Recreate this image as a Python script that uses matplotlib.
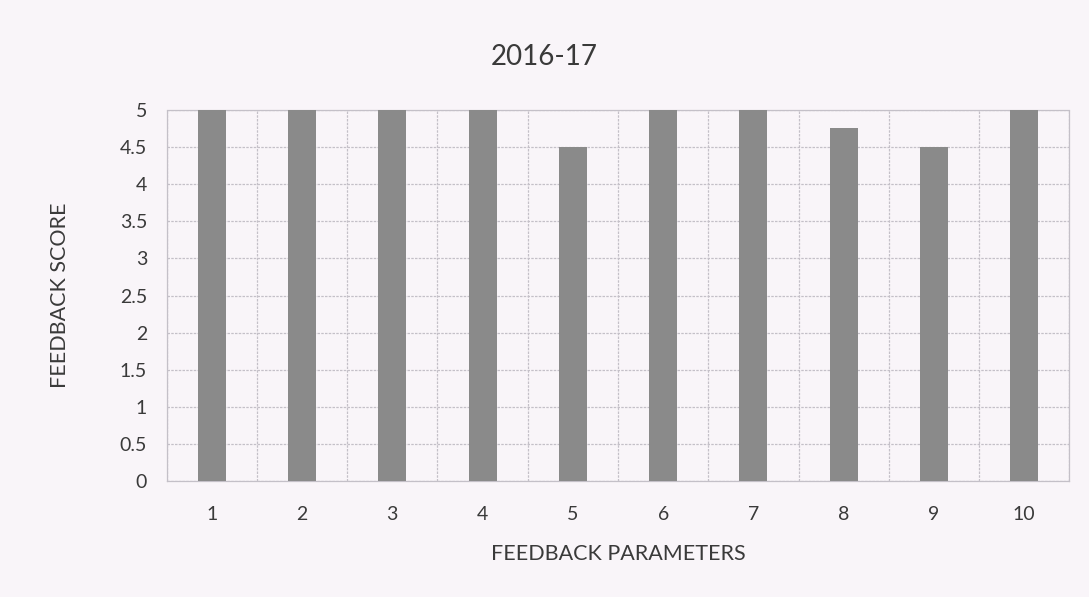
import matplotlib
matplotlib.use("Agg")
import matplotlib.pyplot as plt
import numpy as np

# feedback scores per parameter
parameters = ["1", "2", "3", "4", "5", "6", "7", "8", "9", "10"]
scores = [5, 5, 5, 5, 4.5, 5, 5, 4.75, 4.5, 5]
y_ticks = [0, 0.5, 1, 1.5, 2, 2.5, 3, 3.5, 4, 4.5, 5]

plt.rcParams['font.family'] = ['Lato', 'DejaVu Sans']

bg = '#f9f5f9'
text_col = '#3a3a3a'
grid_col = '#c4c0c8'

fig = plt.figure(figsize=(10.89, 5.97), dpi=100, facecolor=bg)
ax = fig.add_axes([0.153, 0.194, 0.829, 0.622])
ax.set_facecolor(bg)

x = np.arange(len(parameters))
ax.bar(x, scores, width=0.31, color='#8a8a8a', zorder=3)

ax.set_xlim(-0.5, len(parameters) - 0.5)
ax.set_ylim(0, 5)
ax.set_yticks(y_ticks)
ax.set_yticklabels([f"{v:g}" for v in y_ticks])
ax.set_xticks(x)
ax.set_xticklabels(parameters)

# vertical grid at category boundaries
ax.set_xticks(np.arange(-0.5, len(parameters)), minor=True)
ax.grid(which='minor', axis='x', color=grid_col, linestyle=(0, (2, 1)), linewidth=0.9, zorder=0)
ax.grid(which='major', axis='y', color=grid_col, linestyle=(0, (2, 1)), linewidth=0.9, zorder=0)
ax.grid(which='major', axis='x', visible=False)

ax.tick_params(axis='both', which='both', length=0, labelsize=14, colors=text_col)
ax.tick_params(axis='x', pad=18)
ax.tick_params(axis='y', pad=14)
for s in ax.spines.values():
    s.set_color(grid_col)
    s.set_linestyle((0, (2, 1)))
    s.set_linewidth(0.9)

fig.text(0.5, 0.905, "2016-17", fontsize=20, color=text_col, ha='center', va='center')
ax.set_xlabel("FEEDBACK PARAMETERS", fontsize=15.5, color=text_col, labelpad=15)
fig.text(0.055, 0.505, "FEEDBACK SCORE", fontsize=15.5, color=text_col,
         rotation=90, ha='center', va='center')

fig.savefig("out.png", dpi=100, facecolor=bg)
